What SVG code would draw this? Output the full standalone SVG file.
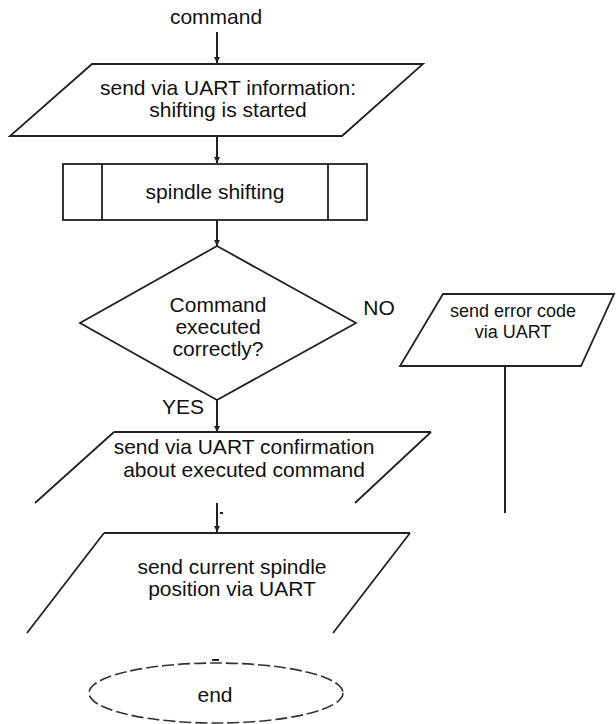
<svg xmlns="http://www.w3.org/2000/svg" width="616" height="724" viewBox="0 0 616 724">
<style>
  .t { font-family: "Liberation Sans", Arial, sans-serif; font-size: 21px; fill: #111; text-anchor: middle; }
  .ts { font-family: "Liberation Sans", Arial, sans-serif; font-size: 18px; fill: #111; text-anchor: middle; }
  .shape { fill: #fff; stroke: #222; stroke-width: 1.8; stroke-linejoin: miter; }
  .edge { fill: none; stroke: #222; stroke-width: 1.8; }
  .conn { fill: none; stroke: #222; stroke-width: 2; }
  .dash { fill: #fff; stroke: #333; stroke-width: 1.6; stroke-dasharray: 12 4; }
</style>
<defs>
  <marker id="arr" viewBox="0 0 6 6" refX="6" refY="3" markerWidth="6" markerHeight="6" markerUnits="userSpaceOnUse" orient="auto">
    <path d="M0,0 L6,3 L0,6 z" fill="#222"/>
  </marker>
</defs>

<g id="connectors">
  <line class="conn" x1="217" y1="32" x2="217" y2="63" marker-end="url(#arr)"/>
  <line class="conn" x1="217" y1="136" x2="217" y2="163" marker-end="url(#arr)"/>
  <line class="conn" x1="217" y1="220" x2="217" y2="246" marker-end="url(#arr)"/>
  <line class="conn" x1="217" y1="400" x2="217" y2="432" marker-end="url(#arr)"/>
  <line class="conn" x1="217" y1="503" x2="217" y2="532" marker-end="url(#arr)"/>
  <line class="conn" x1="220" y1="513" x2="223" y2="513"/>
  <line class="conn" x1="505" y1="366" x2="505" y2="513"/>
  <line class="conn" x1="212" y1="660" x2="219" y2="660"/>
</g>

<g id="start">
  <text class="t" x="216" y="24">command</text>
</g>

<g id="send-info">
  <polygon class="shape" points="92,64 423,64 342,136 10,136"/>
  <text class="t" x="228" y="95">send via UART information:</text>
  <text class="t" x="228" y="117">shifting is started</text>
</g>

<g id="spindle-shifting">
  <rect class="shape" x="63" y="164" width="304" height="56"/>
  <line class="edge" x1="102" y1="164" x2="102" y2="220"/>
  <line class="edge" x1="328" y1="164" x2="328" y2="220"/>
  <text class="t" x="215" y="199">spindle shifting</text>
</g>

<g id="decision">
  <polygon class="shape" points="217,246 356,323 217,400 80,323"/>
  <text class="t" x="218" y="312">Command</text>
  <text class="t" x="218" y="334">executed</text>
  <text class="t" x="218" y="356">correctly?</text>
  <text class="t" x="379" y="315">NO</text>
  <text class="t" x="183" y="414">YES</text>
</g>

<g id="send-error">
  <polygon class="shape" points="443,294 614,294 581,366 400,366"/>
  <text class="ts" x="513" y="317">send error code</text>
  <text class="ts" x="513" y="338">via UART</text>
</g>

<g id="send-confirmation">
  <line class="edge" x1="114" y1="432" x2="431" y2="432"/>
  <line class="edge" x1="114" y1="432" x2="35" y2="503"/>
  <line class="edge" x1="431" y1="432" x2="355" y2="503"/>
  <text class="t" x="244" y="454">send via UART confirmation</text>
  <text class="t" x="244" y="477">about executed command</text>
</g>

<g id="send-position">
  <line class="edge" x1="104" y1="533" x2="410" y2="533"/>
  <line class="edge" x1="104" y1="533" x2="27" y2="633"/>
  <line class="edge" x1="410" y1="533" x2="333" y2="633"/>
  <text class="t" x="232" y="574">send current spindle</text>
  <text class="t" x="232" y="596">position via UART</text>
</g>

<g id="end">
  <ellipse class="dash" cx="216" cy="693" rx="127" ry="30"/>
  <text class="t" x="215" y="702">end</text>
</g>
</svg>
